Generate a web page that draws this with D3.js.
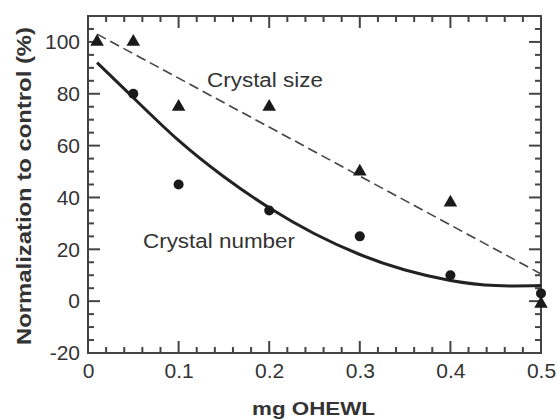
<!DOCTYPE html>
<html>
<head>
<meta charset="utf-8">
<script src="https://cdn.jsdelivr.net/npm/d3@7"></script>
<style>
  body { margin: 0; background: #fff; }
  text { font-family: "Liberation Sans", Arial, sans-serif; fill: #333; }
</style>
</head>
<body>
<div id="chart"></div>
<script>
const width = 557;
const height = 419;
const margin = { top: 16, right: 16, bottom: 66, left: 88 };

// measured points
const sizeDose = [0.01, 0.05, 0.1, 0.2, 0.3, 0.4, 0.5];
const sizeValues = [100, 100, 75, 75, 50, 38, -1];
const numberDose = [0.05, 0.1, 0.2, 0.3, 0.4, 0.5];
const numberValues = [80, 45, 35, 25, 10, 3];

// fitted lines
const sizeFitDose = [0.01, 0.5];
const sizeFitValues = [103, 10.5];
const numberFitDose = [0.01, 0.05, 0.1, 0.15, 0.2, 0.25, 0.3, 0.35, 0.4, 0.45, 0.5];
const numberFitValues = [92, 78.5, 62, 48, 36, 26, 18, 12, 8, 6, 6];

const xMajor = [0, 0.1, 0.2, 0.3, 0.4, 0.5];
const yMajor = [-20, 0, 20, 40, 60, 80, 100];

const innerW = width - margin.left - margin.right;
const innerH = height - margin.top - margin.bottom;

const x = d3.scaleLinear().domain([0, 0.5]).range([0, innerW]);
const y = d3.scaleLinear().domain([-20, 110]).range([innerH, 0]);

const svg = d3.select("#chart").append("svg")
    .attr("width", width)
    .attr("height", height);

const g = svg.append("g")
    .attr("transform", `translate(${margin.left},${margin.top})`);

const xMinor = d3.range(0.02, 0.5, 0.02).filter((v, i) => (i + 1) % 5 !== 0);
const yMinor = d3.range(-15, 110, 5).filter(v => v % 20 !== 0);

// tick labels via d3 axes
const fmt = d => String(+d.toFixed(1));
const xAxisG = g.append("g")
    .attr("transform", `translate(0,${innerH})`)
    .call(d3.axisBottom(x).tickValues(xMajor).tickSize(0).tickPadding(10).tickFormat(fmt));
const yAxisG = g.append("g")
    .call(d3.axisLeft(y).tickValues(yMajor).tickSize(0).tickPadding(8).tickFormat(fmt));
[xAxisG, yAxisG].forEach(a => {
    a.select(".domain").remove();
    a.selectAll("line").remove();
    a.selectAll("text").style("font-size", "21px").attr("fill", "#333");
});

g.append("rect")
    .attr("width", innerW)
    .attr("height", innerH)
    .attr("fill", "none")
    .attr("stroke", "#444")
    .attr("stroke-width", 2);

// inward ticks on all four sides
const xTicks = xMajor.map(v => ({ v: v, len: 12 })).concat(xMinor.map(v => ({ v: v, len: 6 })));
const yTicks = yMajor.map(v => ({ v: v, len: 12 })).concat(yMinor.map(v => ({ v: v, len: 6 })));

const tickG = g.append("g").attr("stroke", "#444").attr("stroke-width", 2);
tickG.selectAll(".xb").data(xTicks).enter().append("line").attr("class", "xb")
    .attr("x1", d => x(d.v)).attr("x2", d => x(d.v))
    .attr("y1", innerH).attr("y2", d => innerH - d.len);
tickG.selectAll(".xt").data(xTicks).enter().append("line").attr("class", "xt")
    .attr("x1", d => x(d.v)).attr("x2", d => x(d.v))
    .attr("y1", 0).attr("y2", d => d.len);
tickG.selectAll(".yl").data(yTicks).enter().append("line").attr("class", "yl")
    .attr("y1", d => y(d.v)).attr("y2", d => y(d.v))
    .attr("x1", 0).attr("x2", d => d.len);
tickG.selectAll(".yr").data(yTicks).enter().append("line").attr("class", "yr")
    .attr("y1", d => y(d.v)).attr("y2", d => y(d.v))
    .attr("x1", innerW).attr("x2", d => innerW - d.len);

// fitted lines
const sizeFit = sizeFitDose.map((d, i) => [d, sizeFitValues[i]]);
const numberFit = numberFitDose.map((d, i) => [d, numberFitValues[i]]);

const line = d3.line().x(d => x(d[0])).y(d => y(d[1]));

g.append("path")
    .datum(sizeFit)
    .attr("d", line)
    .attr("fill", "none")
    .attr("stroke", "#444")
    .attr("stroke-width", 1.6)
    .attr("stroke-dasharray", "10,5");

g.append("path")
    .datum(numberFit)
    .attr("d", line.curve(d3.curveNatural))
    .attr("fill", "none")
    .attr("stroke", "#222")
    .attr("stroke-width", 3);

// points
g.selectAll(".num")
    .data(numberDose.map((d, i) => [d, numberValues[i]]))
    .enter().append("circle")
    .attr("class", "num")
    .attr("cx", d => x(d[0]))
    .attr("cy", d => y(d[1]))
    .attr("r", 5)
    .attr("fill", "#1a1a1a");

const tri = d3.symbol().type(d3.symbolTriangle).size(80);
g.selectAll(".size")
    .data(sizeDose.map((d, i) => [d, sizeValues[i]]))
    .enter().append("path")
    .attr("class", "size")
    .attr("d", tri)
    .attr("transform", d => `translate(${x(d[0])},${y(d[1])})`)
    .attr("fill", "#1a1a1a");

// annotations
svg.append("text")
    .attr("x", 207)
    .attr("y", 87)
    .attr("textLength", 116)
    .attr("lengthAdjust", "spacingAndGlyphs")
    .style("font-size", "20px")
    .text("Crystal size");

svg.append("text")
    .attr("x", 143)
    .attr("y", 248)
    .attr("textLength", 152)
    .attr("lengthAdjust", "spacingAndGlyphs")
    .style("font-size", "20px")
    .text("Crystal number");

// axis titles
svg.append("text")
    .attr("x", 252)
    .attr("y", 415)
    .attr("textLength", 123)
    .attr("lengthAdjust", "spacingAndGlyphs")
    .style("font-size", "18px")
    .style("font-weight", "bold")
    .text("mg OHEWL");

svg.append("text")
    .attr("transform", "translate(31,186) rotate(-90)")
    .attr("x", -159)
    .attr("textLength", 318)
    .attr("lengthAdjust", "spacingAndGlyphs")
    .style("font-size", "20px")
    .style("font-weight", "bold")
    .text("Normalization to control (%)");
</script>
</body>
</html>
